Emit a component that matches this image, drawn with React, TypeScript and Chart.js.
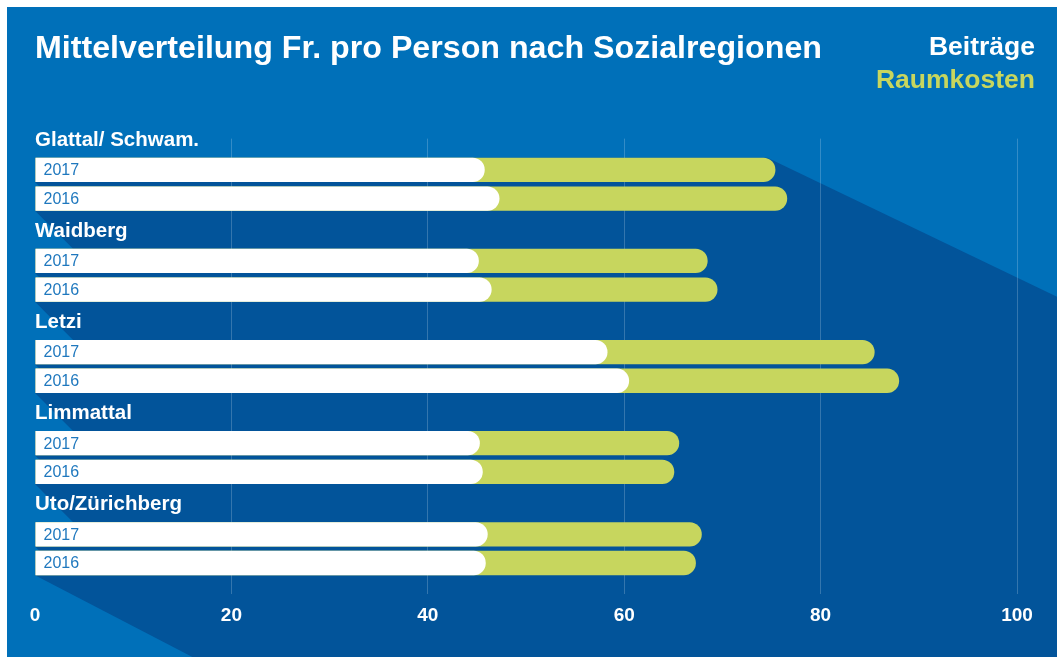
import React, { useEffect, useRef } from 'react';
import { Chart, registerables } from 'chart.js';

Chart.register(...registerables);

const TITLE = 'Mittelverteilung Fr. pro Person nach Sozialregionen';
const GROUPS = ['Glattal/ Schwam.', 'Waidberg', 'Letzi', 'Limmattal', 'Uto/Zürichberg'];
const YEARS = ['2017', '2016'];
const SERIES_NAMES = ['Beiträge', 'Raumkosten'];
const BEITRAEGE_2017 = [45.8, 45.2, 58.3, 45.3, 46.1];
const BEITRAEGE_2016 = [47.3, 46.5, 60.5, 45.6, 45.9];
const RAUMKOSTEN_2017 = [29.6, 23.3, 27.2, 20.3, 21.8];
const RAUMKOSTEN_2016 = [29.3, 23.0, 27.5, 19.5, 21.4];
const X_TICKS = [0, 20, 40, 60, 80, 100];

const LIGHT = '#0070b9';
const DARK = '#02549a';
const GREEN = '#c7d65e';
const WHITE = '#ffffff';
const YEAR_BLUE = '#1f78be';
const FONT = '"Liberation Sans", Arial, Helvetica, sans-serif';

const backgroundPlugin = {
  id: 'panelBackground',
  beforeDraw(chart: any) {
    const ctx = chart.ctx;
    const { width, height } = chart;
    ctx.save();
    ctx.fillStyle = LIGHT;
    ctx.fillRect(0, 0, width, height);
    const left = chart.scales.x.getPixelForValue(0);
    const bars: { top: number; bottom: number }[] = [];
    [0, 1].forEach((i) => {
      chart.getDatasetMeta(i).data.forEach((el: any) => {
        bars.push({ top: el.y - el.height / 2, bottom: el.y + el.height / 2 });
      });
    });
    if (!bars.length) { ctx.restore(); return; }
    bars.sort((a, b) => a.top - b.top);
    const first = bars[0];
    const last = bars[bars.length - 1];
    const greenFirst = chart.getDatasetMeta(2).data[0];
    const sx = greenFirst.x - 8;
    ctx.fillStyle = DARK;
    ctx.beginPath();
    ctx.moveTo(left, first.top);
    ctx.lineTo(sx, first.top);
    ctx.lineTo(width, first.top + (width - sx) * 0.48);
    ctx.lineTo(width, height);
    ctx.lineTo(left + (height - last.bottom) / 0.52, height);
    ctx.lineTo(left, last.bottom);
    ctx.closePath();
    ctx.fill();
    ctx.fillStyle = LIGHT;
    for (let i = 1; i < bars.length; i++) {
      const a = bars[i - 1].bottom;
      const b = bars[i].top;
      if (b > a) {
        ctx.beginPath();
        ctx.moveTo(left, a);
        ctx.lineTo(left, b);
        ctx.lineTo(left + (b - a), b);
        ctx.closePath();
        ctx.fill();
      }
    }
    ctx.restore();
  },
  afterDatasetsDraw(chart: any) {
    const ctx = chart.ctx;
    ctx.save();
    ctx.font = `16px ${FONT}`;
    ctx.fillStyle = YEAR_BLUE;
    ctx.textAlign = 'left';
    ctx.textBaseline = 'middle';
    [0, 1].forEach((i) => {
      chart.getDatasetMeta(i).data.forEach((el: any) => {
        ctx.fillText(YEARS[i], el.base + 8, el.y + 1);
      });
    });
    ctx.restore();
  },
  afterDraw(chart: any) {
    const ctx = chart.ctx;
    const right = chart.width - 22;
    ctx.save();
    ctx.font = `bold 26.5px ${FONT}`;
    ctx.textAlign = 'right';
    ctx.textBaseline = 'alphabetic';
    ctx.fillStyle = WHITE;
    ctx.fillText(SERIES_NAMES[0], right, 47.5);
    ctx.fillStyle = GREEN;
    ctx.fillText(SERIES_NAMES[1], right, 81);
    ctx.restore();
  },
};

export default function App() {
  const ref = useRef<HTMLCanvasElement | null>(null);
  useEffect(() => {
    if (!ref.current) return;
    const total17 = BEITRAEGE_2017.map((v, i) => v + RAUMKOSTEN_2017[i]);
    const total16 = BEITRAEGE_2016.map((v, i) => v + RAUMKOSTEN_2016[i]);
    const barBase = { borderRadius: 12, borderSkipped: 'start', borderWidth: 0 };
    const chart = new Chart(ref.current, {
      type: 'bar',
      data: {
        labels: GROUPS,
        datasets: [
          { ...barBase, label: `${SERIES_NAMES[0]} ${YEARS[0]}`, data: BEITRAEGE_2017, backgroundColor: WHITE, stack: 's2017' },
          { ...barBase, label: `${SERIES_NAMES[0]} ${YEARS[1]}`, data: BEITRAEGE_2016, backgroundColor: WHITE, stack: 's2016' },
          { ...barBase, label: `${SERIES_NAMES[1]} ${YEARS[0]}`, data: total17, backgroundColor: GREEN, stack: 's2017' },
          { ...barBase, label: `${SERIES_NAMES[1]} ${YEARS[1]}`, data: total16, backgroundColor: GREEN, stack: 's2016' },
        ] as any,
      },
      options: {
        indexAxis: 'y',
        responsive: false,
        animation: false,
        layout: { padding: { left: 28, right: 40, top: 0, bottom: 20 } },
        datasets: { bar: { categoryPercentage: 0.63, barPercentage: 0.847 } } as any,
        plugins: {
          legend: { display: false },
          tooltip: { enabled: false },
          title: {
            display: true,
            text: TITLE,
            align: 'start',
            color: WHITE,
            font: { family: FONT, size: 32.2, weight: 'bold' },
            padding: { top: 23, bottom: 70 },
          },
        },
        scales: {
          x: {
            type: 'linear',
            min: 0,
            max: 100,
            stacked: false,
            afterBuildTicks: (scale: any) => {
              scale.ticks = X_TICKS.map((v) => ({ value: v }));
            },
            grid: {
              color: (c: any) => (c.tick && c.tick.value === 0 ? 'rgba(0,0,0,0)' : 'rgba(255,255,255,0.2)'),
              drawTicks: false,
              lineWidth: 1,
            },
            border: { display: false },
            ticks: { color: WHITE, font: { family: FONT, size: 19, weight: 'bold' }, padding: 10 },
          },
          y: {
            type: 'category',
            stacked: true,
            grid: { display: false, drawTicks: false },
            border: { display: false },
            ticks: {
              mirror: true,
              padding: 0,
              labelOffset: -44,
              color: WHITE,
              font: { family: FONT, size: 20.5, weight: 'bold' },
            },
          },
        } as any,
      } as any,
      plugins: [backgroundPlugin],
    });
    return () => chart.destroy();
  }, []);
  return (
    <div
      style={{
        position: 'absolute',
        left: 7,
        top: 7,
        width: 1050,
        height: 650,
        background: LIGHT,
        overflow: 'hidden',
      }}
    >
      <canvas ref={ref} width={1050} height={650} style={{ display: 'block', width: 1050, height: 650 }} />
    </div>
  );
}
